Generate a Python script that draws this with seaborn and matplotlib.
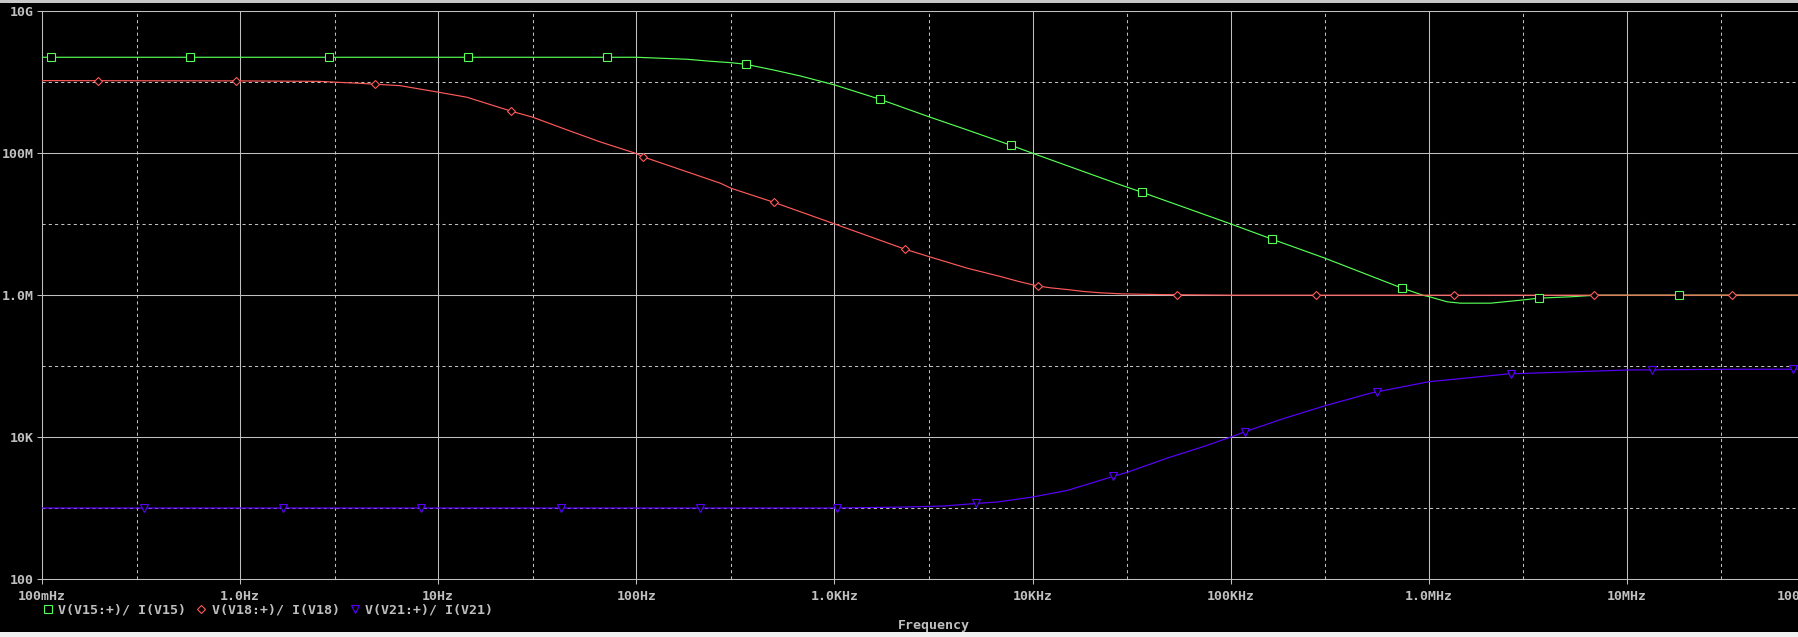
import numpy as np
import pandas as pd
import matplotlib
matplotlib.use("Agg")
import matplotlib.pyplot as plt
import seaborn as sns
from matplotlib.ticker import FixedLocator, FixedFormatter, NullFormatter
from matplotlib.lines import Line2D
from matplotlib.patches import Rectangle

# ---------------- data ----------------
green_f = [0.1, 1, 10, 100, 180, 237, 300, 356, 493, 673, 1000, 1694, 2992, 4677,
           7762, 10000, 27800, 35645, 100000, 161800, 299000, 732800, 946000, 1.0e6,
           1.24e6, 1.445e6, 2.056e6, 3.03e6, 3.597e6, 5.21e6, 7.0e6, 1e7, 1e8]
green_v = [2.25e9, 2.25e9, 2.25e9, 2.25e9, 2.11e9, 1.977e9, 1.888e9, 1.795e9, 1.489e9,
           1.227e9, 9.18e8, 5.77e8, 3.27e8, 2.13e8, 1.297e8, 1.0e8, 3.58e7, 2.82e7,
           1.01e7, 6.15e6, 3.32e6, 1.256e6, 9.87e5, 9.55e5, 8.05e5, 7.71e5, 7.71e5,
           8.59e5, 9.08e5, 9.48e5, 1.0e6, 1.0e6, 1.0e6]

red_f = [0.1, 1, 2.5, 3.2, 4.0, 4.81, 6.43, 10.07, 13.96, 23.4, 30.06, 44.7, 65.8, 100,
         107.6, 265.5, 300.6, 493, 1000, 2265, 2992, 4677, 6887, 8500, 10540, 12330,
         14960, 18160, 22000, 28300, 45200, 100000, 1e8]
red_v = [1.055e9, 1.045e9, 1.03e9, 9.95e8, 9.68e8, 9.38e8, 8.95e8, 7.23e8, 6.15e8,
         3.91e8, 3.21e8, 2.13e8, 1.442e8, 9.9e7, 8.95e7, 3.78e7, 3.21e7, 2.04e7, 1.01e7,
         4.45e6, 3.5e6, 2.4e6, 1.83e6, 1.56e6, 1.352e6, 1.268e6, 1.2e6, 1.125e6,
         1.08e6, 1.042e6, 1.018e6, 1.0e6, 1.0e6]

blue_f = [0.1, 1000, 2239, 3548, 5212, 6637, 10000, 14960, 25470, 29920, 47860, 73280,
          100000, 118000, 185800, 299200, 509300, 1e6, 2.512e6, 1e7, 3.16e7, 1e8]
blue_v = [1000, 1000, 1033, 1067, 1161, 1216, 1429, 1770, 2786, 3177, 5058, 7379,
          10000, 11885, 18320, 27610, 41690, 60260, 77620, 88100, 90160, 90500]

# marker positions
green_mf = [0.1114, 0.561, 2.81, 14.1, 70.8, 356, 1694, 7762, 35645, 161800, 732800,
            3.597e6, 1.824e7]
green_mv = [2.25e9, 2.25e9, 2.25e9, 2.25e9, 2.25e9, 1.795e9, 5.77e8, 1.297e8, 2.82e7,
            6.15e6, 1.256e6, 9.08e5, 1.0e6]
red_mf = [0.1919, 0.955, 4.81, 23.4, 107.6, 493, 2265, 10593, 53580, 268500, 1.343e6,
          6.79e6, 3.41e7]
red_mv = [1.055e9, 1.045e9, 9.38e8, 3.91e8, 8.95e7, 2.04e7, 4.45e6, 1.35e6, 1.01e6,
          1.0e6, 1.0e6, 1.0e6, 1.0e6]
blue_mf = [0.327, 1.648, 8.18, 41.7, 209, 1035, 5212, 25470, 118000, 545800, 2.594e6,
           1.337e7, 6.92e7]
blue_mv = [1000, 1000, 1000, 1000, 1000, 1000, 1161, 2786, 11885, 43150, 77900, 89000,
           90500]

series_labels = ["V(V15:+)/ I(V15)", "V(V18:+)/ I(V18)", "V(V21:+)/ I(V21)"]

x_major = [0.1, 1, 10, 100, 1e3, 1e4, 1e5, 1e6, 1e7, 1e8]
x_labels = ["100mHz", "1.0Hz", "10Hz", "100Hz", "1.0KHz", "10KHz", "100KHz",
            "1.0MHz", "10MHz", "100MHz"]
x_minor = [0.3, 3, 30, 300, 3e3, 3e4, 3e5, 3e6, 3e7]
y_major = [1e2, 1e4, 1e6, 1e8, 1e10]
y_labels = ["100", "10K", "1.0M", "100M", "10G"]
y_minor = [1e3, 1e5, 1e7, 1e9]

# ---------------- style ----------------
sns.set_theme(style="dark")
plt.rcParams['font.family'] = ['DejaVu Sans Mono', 'DejaVu Sans']
plt.rcParams['font.weight'] = 'bold'

GREEN = '#55ff55'
RED = '#ff5a5a'
BLUE = '#5a00ff'
GRID = '#c0c0c0'
TXT = '#c0c0c0'
FS = 9.5

W, H = 1798, 637
fig = plt.figure(figsize=(W / 100, H / 100), dpi=100, facecolor='black')
ax = fig.add_axes([42 / W, (H - 579) / H, (1825 - 42) / W, (579 - 11.3) / H])
ax.set_facecolor('black')
ax.set_xscale('log')
ax.set_yscale('log')

for f, v, c in [(green_f, green_v, GREEN), (red_f, red_v, RED), (blue_f, blue_v, BLUE)]:
    df = pd.DataFrame({'f': f, 'v': v})
    sns.lineplot(data=df, x='f', y='v', ax=ax, color=c, linewidth=0.85,
                 estimator=None, sort=False, legend=False, zorder=3)

MK = [('s', 5.8), ('D', 4.4), ('v', 6.4)]
for (mf, mv, c), (m, ms) in zip([(green_mf, green_mv, GREEN),
                                 (red_mf, red_mv, RED),
                                 (blue_mf, blue_mv, BLUE)], MK):
    ax.plot(mf, mv, linestyle='none', marker=m, markersize=ms, markerfacecolor='black',
            markeredgecolor=c, markeredgewidth=0.8, zorder=4)

ax.set_xlim(0.1, 1e8)
ax.set_ylim(100, 1e10)

ax.xaxis.set_major_locator(FixedLocator(x_major))
ax.xaxis.set_major_formatter(FixedFormatter(x_labels))
ax.xaxis.set_minor_locator(FixedLocator(x_minor))
ax.xaxis.set_minor_formatter(NullFormatter())
ax.yaxis.set_major_locator(FixedLocator(y_major))
ax.yaxis.set_major_formatter(FixedFormatter(y_labels))
ax.yaxis.set_minor_locator(FixedLocator(y_minor))
ax.yaxis.set_minor_formatter(NullFormatter())

ax.grid(which='major', color=GRID, linewidth=0.75, linestyle='-')
ax.grid(which='minor', color=GRID, linewidth=0.75, linestyle=(0, (3, 3)))
ax.set_axisbelow(True)

for s in ['left', 'bottom', 'top']:
    ax.spines[s].set_visible(True)
    ax.spines[s].set_color(GRID)
    ax.spines[s].set_linewidth(0.75)
ax.spines['right'].set_visible(False)

ax.tick_params(which='major', length=3.6, width=0.75, color=GRID, direction='out',
               labelcolor=TXT, labelsize=FS, bottom=True, left=True, top=False, right=False)
ax.tick_params(which='minor', length=0)
ax.tick_params(axis='x', pad=4.2)
ax.tick_params(axis='y', pad=2.4)
ax.set_xlabel('')
ax.set_ylabel('')

ax.xaxis.get_major_ticks()[-1].label1.set_horizontalalignment('right')

handles = [Line2D([], [], linestyle='none', marker=m, markersize=ms,
                  markerfacecolor='black', markeredgecolor=c, markeredgewidth=0.8)
           for (m, ms), c in zip(MK, [GREEN, RED, BLUE])]
fig.legend(handles=handles, labels=series_labels, loc='center left',
           bbox_to_anchor=(41 / W, (H - 610) / H), ncol=3, frameon=False,
           handlelength=1.0, handletextpad=0.3, columnspacing=0.64, borderpad=0,
           borderaxespad=0, prop=dict(family='DejaVu Sans Mono', weight='bold', size=FS),
           labelcolor=TXT)

fig.text(934 / W, (H - 625) / H, 'Frequency', ha='center', va='center', color=TXT,
         fontsize=FS, fontweight='bold')

fig.add_artist(Rectangle((0, 1 - 3 / H), 1, 3 / H, transform=fig.transFigure,
                         facecolor='#c8c8c8', edgecolor='none'))
fig.add_artist(Rectangle((0, 0), 1, 5 / H, transform=fig.transFigure,
                         facecolor='#f0f0f0', edgecolor='none'))

fig.savefig('out.png', dpi=100, facecolor='black')
